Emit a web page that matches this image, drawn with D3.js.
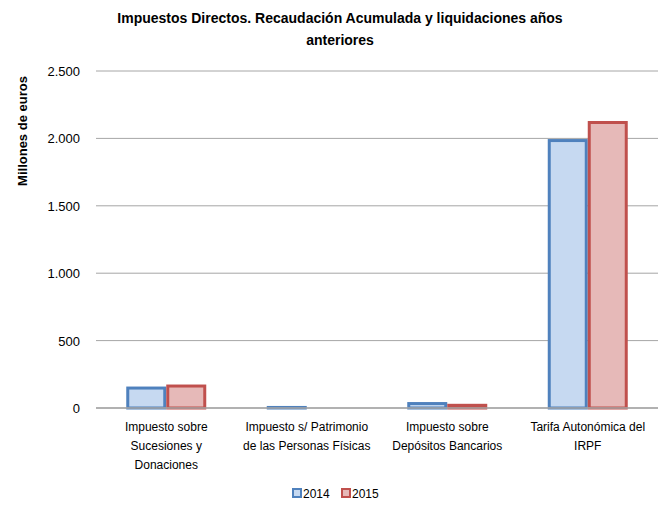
<!DOCTYPE html>
<html>
<head>
<meta charset="utf-8">
<script src="https://cdn.jsdelivr.net/npm/d3@7"></script>
<style>
body { margin: 0; background: #fff; }
text { font-family: "Liberation Sans", Arial, sans-serif; fill: #000; }
</style>
</head>
<body>
<div id="chart"></div>
<script>
var categories = [
  ["Impuesto sobre", "Sucesiones y", "Donaciones"],
  ["Impuesto s/ Patrimonio", "de las Personas Físicas"],
  ["Impuesto sobre", "Depósitos Bancarios"],
  ["Tarifa Autonómica del", "IRPF"]
]
var years = ["2014", "2015"]
var values2014 = [148, 4, 33, 1984]
var values2015 = [163, 0, 20, 2118]
var yTicks = [0, 500, 1000, 1500, 2000, 2500]

var strokeColors = ["#4f81bd", "#c0504d"]
var fillColors = ["#c6d9f1", "#e6b9b8"]

var W = 661, H = 507
var plotLeft = 96, plotRight = 658, plotTop = 71, plotBottom = 408

var svg = d3.select("#chart").append("svg").attr("width", W).attr("height", H)

var x = d3.scaleBand().domain(d3.range(categories.length)).range([plotLeft, plotRight]).paddingInner(0).paddingOuter(0)
var x1 = d3.scaleBand().domain(years).range([x.bandwidth() / 2 - 40, x.bandwidth() / 2 + 40])
var y = d3.scaleLinear().domain([0, 2500]).range([plotBottom, plotTop])

// gridlines
svg.append("g").selectAll("line").data(yTicks).enter().append("line")
  .attr("x1", plotLeft).attr("x2", plotRight)
  .attr("y1", function(d){ return y(d) }).attr("y2", function(d){ return y(d) })
  .attr("stroke", "#a6a6a6").attr("stroke-width", 1)

var fmt = function(d){ return d3.format(",")(d).replace(/,/g, ".") }
svg.append("g").selectAll("text").data(yTicks).enter().append("text")
  .attr("x", 80).attr("y", function(d){ return y(d) + 5 })
  .attr("text-anchor", "end").style("font-size", "13px")
  .text(fmt)

var series = [values2014, values2015]
series.forEach(function(vals, s){
  svg.append("g").selectAll("rect").data(vals.map(function(v, i){ return {v: v, i: i} }).filter(function(d){ return d.v > 0 }))
    .enter().append("rect")
    .attr("x", function(d){ return x(d.i) + x1(years[s]) + 1.5 })
    .attr("y", function(d){ return y(d.v) })
    .attr("width", x1.bandwidth() - 3)
    .attr("height", function(d){ return plotBottom - y(d.v) })
    .attr("fill", fillColors[s])
    .attr("stroke", strokeColors[s])
    .attr("stroke-width", 3)
})

// baseline over bars
svg.append("line").attr("x1", plotLeft).attr("x2", plotRight).attr("y1", plotBottom).attr("y2", plotBottom)
  .attr("stroke", "#a6a6a6").attr("stroke-width", 1.5)

// category labels
categories.forEach(function(lines, i){
  var t = svg.append("text").attr("text-anchor", "middle").style("font-size", "12px")
  lines.forEach(function(l, j){
    t.append("tspan").attr("x", x(i) + x.bandwidth() / 2).attr("y", 431 + j * 19).text(l)
  })
})

// title
var title = svg.append("text").attr("text-anchor", "middle").style("font-size", "14px").style("font-weight", "bold")
title.append("tspan").attr("x", 340).attr("y", 23).text("Impuestos Directos. Recaudación Acumulada y liquidaciones años")
title.append("tspan").attr("x", 340).attr("y", 45).text("anteriores")

// y axis title
svg.append("text").attr("transform", "translate(27,131) rotate(-90)")
  .attr("text-anchor", "middle").style("font-size", "13px").style("font-weight", "bold")
  .text("Millones de euros")

// legend
var leg = svg.append("g").attr("transform", "translate(293,494)")
years.forEach(function(yr, i){
  var g = leg.append("g").attr("transform", "translate(" + (i * 49) + ",0)")
  g.append("rect").attr("x", 0).attr("y", -5).attr("width", 8).attr("height", 8)
    .attr("fill", fillColors[i]).attr("stroke", strokeColors[i]).attr("stroke-width", 2)
  g.append("text").attr("x", 10).attr("y", 4).style("font-size", "12px").text(yr)
})
</script>
</body>
</html>
